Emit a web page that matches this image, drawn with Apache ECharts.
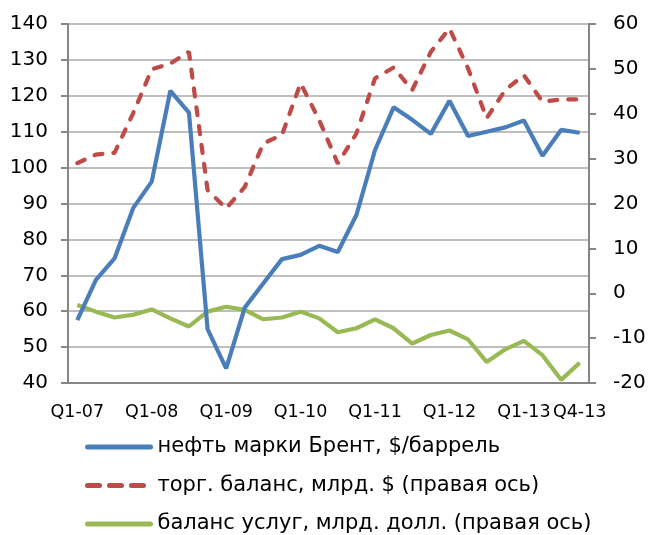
<!DOCTYPE html>
<html>
<head>
<meta charset="utf-8">
<script src="https://cdn.jsdelivr.net/npm/echarts@6/dist/echarts.min.js"></script>
<style>html,body{margin:0;padding:0;background:#fff}#c{width:652px;height:535px}</style>
</head>
<body>
<div id="c"></div>
<script>
const categories = (function(){
  const q = [];
  for (let y = 7; y <= 13; y++) for (let k = 1; k <= 4; k++) q.push('Q' + k + '-' + String(y).padStart(2,'0'));
  return q;
})();
const brent = [57.5, 68.7, 74.7, 88.7, 96.1, 121.4, 115.3, 55.0, 44.1, 61.0, 67.8, 74.5, 75.7, 78.2, 76.5,
  86.8, 104.9, 116.8, 113.3, 109.4, 118.6, 108.8, 110.0, 111.2, 113.1, 103.3, 110.5, 109.7];
const tradeBalance = [29.0, 30.9, 31.3, 40.1, 49.9, 51.2, 53.8, 23.0, 18.9, 23.7, 33.4, 35.3, 46.8, 38.6, 28.9,
  35.6, 47.9, 50.3, 45.3, 53.8, 59.0, 50.1, 39.0, 45.3, 48.6, 42.7, 43.2, 43.2];
const servicesBalance = [-2.6, -4.1, -5.4, -4.8, -3.6, -5.6, -7.4, -4.1, -3.0, -3.7, -5.8, -5.4, -4.1, -5.6, -8.7,
  -7.8, -5.8, -7.8, -11.2, -9.3, -8.3, -10.3, -15.3, -12.5, -10.6, -13.8, -19.3, -15.5];
const seriesNames = ['нефть марки Брент, $/баррель', 'торг. баланс, млрд. $ (правая ось)', 'баланс услуг, млрд. долл. (правая ось)'];
const shownLabels = ['Q1-07','Q1-08','Q1-09','Q1-10','Q1-11','Q1-12','Q1-13','Q4-13'];

const FONT = 'DejaVu Sans';
const BLUE = '#4A7EBB', RED = '#BE4B48', GREEN = '#98B954';
const chart = echarts.init(document.getElementById('c'), null, {renderer: 'canvas'});
chart.setOption({
  animation: false,
  textStyle: {fontFamily: FONT},
  grid: {left: 68, right: 63, top: 24, bottom: 152, containLabel: false},
  legend: {
    orient: 'vertical', left: 80, top: 430, width: 560, height: 110, itemWidth: 63, itemHeight: 14, itemGap: 14.5,
    itemStyle: {opacity: 0},
    textStyle: {fontFamily: FONT, fontSize: 21, lineHeight: 24, color: '#000', padding: [0,0,0,2]},
    data: [
      {name: seriesNames[0], lineStyle: {width: 5, type: 'solid', cap: 'round'}},
      {name: seriesNames[1], lineStyle: {width: 5, type: [12, 10], cap: 'round'}},
      {name: seriesNames[2], lineStyle: {width: 5, type: 'solid', cap: 'round'}}
    ]
  },
  xAxis: {
    type: 'category', data: categories, boundaryGap: true,
    axisLine: {onZero: false, lineStyle: {color: '#868686', width: 2}},
    axisTick: {interval: 3, length: 7, lineStyle: {color: '#868686', width: 2}},
    axisLabel: {
      interval: 0, fontSize: 17.5, color: '#000', fontFamily: FONT, margin: 20, hideOverlap: false,
      formatter: function(v){ return shownLabels.indexOf(v) >= 0 ? v : ''; }
    }
  },
  yAxis: [
    {type: 'value', min: 40, max: 140, interval: 10, position: 'left',
     axisLine: {show: true, lineStyle: {color: '#868686', width: 2}},
     axisTick: {show: true, length: 7, lineStyle: {color: '#868686', width: 2}},
     axisLabel: {fontSize: 20, color: '#000', fontFamily: FONT, margin: 20},
     splitLine: {show: true, lineStyle: {color: '#BFBFBF', width: 2}}},
    {type: 'value', min: -20, max: 60, interval: 10, position: 'right',
     axisLine: {show: true, lineStyle: {color: '#868686', width: 2}},
     axisTick: {show: true, length: 7, lineStyle: {color: '#868686', width: 2}},
     axisLabel: {fontSize: 20, color: '#000', fontFamily: FONT, margin: 24},
     splitLine: {show: false}}
  ],
  series: [
    {name: seriesNames[0], type: 'line', data: brent, yAxisIndex: 0, symbol: 'none',
     lineStyle: {color: BLUE, width: 4.2}, itemStyle: {color: BLUE}, z: 3},
    {name: seriesNames[1], type: 'line', data: tradeBalance, yAxisIndex: 1, symbol: 'none',
     lineStyle: {color: RED, width: 4.2, type: [8, 11], cap: 'round'}, itemStyle: {color: RED}, z: 2},
    {name: seriesNames[2], type: 'line', data: servicesBalance, yAxisIndex: 1, symbol: 'none',
     lineStyle: {color: GREEN, width: 4.2}, itemStyle: {color: GREEN}, z: 2}
  ]
});
</script>
</body>
</html>
